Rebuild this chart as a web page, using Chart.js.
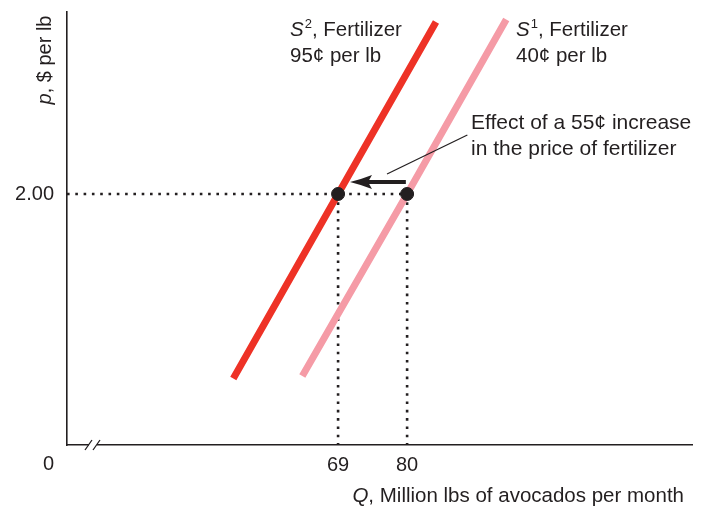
<!DOCTYPE html>
<html lang="en">
<head>
    <meta charset="UTF-8">
    <title>Avocado supply and the price of fertilizer</title>
    <script src="https://cdn.jsdelivr.net/npm/chart.js"></script>
    <style>
        html, body { margin: 0; padding: 0; background: #fff; }
    </style>
</head>
<body>
    <canvas id="ofertaChart" width="710" height="508"></canvas>

    <script>
        // tick labels
        const qTicks = [69, 80];
        const pTicks = [2.00];

        // supply curves (Q in million lbs, p in $ per lb)
        const s2Fertilizer95 = [{ x: 52.3, y: 0.53 }, { x: 69, y: 2.00 }, { x: 84.6, y: 3.37 }];
        const s1Fertilizer40 = [{ x: 63.3, y: 0.55 }, { x: 80, y: 2.00 }, { x: 95.8, y: 3.39 }];

        // equilibrium points at p = 2.00
        const equilibrium = [{ x: 69, y: 2.00 }, { x: 80, y: 2.00 }];

        // shift arrow and the leader line to the note
        const shiftArrow = [{ x: 79.8, y: 2.096 }, { x: 73.5, y: 2.096 }];
        const arrowTip = { x: 70.9, y: 2.096 };
        const leaderLine = [{ x: 76.8, y: 2.159 }, { x: 89.6, y: 2.47 }];

        const qMin = 25.8, qMax = 125.4;
        const pMin = 0, pMax = 3.45;

        const ink = '#231f20';
        const fonte = '"Liberation Sans", Arial, Helvetica, sans-serif';
        const tam = 20.5;

        // dotted guides built from the data above
        const guiaH = [{ x: qMin, y: pTicks[0] }, { x: qTicks[1], y: pTicks[0] }];
        const guia69 = [{ x: qTicks[0], y: pTicks[0] }, { x: qTicks[0], y: pMin }];
        const guia80 = [{ x: qTicks[1], y: pTicks[0] }, { x: qTicks[1], y: pMin }];

        // texto com sobrescrito: S², Fertilizer
        function rotuloS(ctx, x, y, sup, resto) {
            ctx.font = 'italic ' + tam + 'px ' + fonte;
            ctx.fillText('S', x, y);
            let w = ctx.measureText('S').width;
            ctx.font = '13px ' + fonte;
            ctx.fillText(sup, x + w + 1, y - 8);
            w += ctx.measureText(sup).width + 1;
            ctx.font = tam + 'px ' + fonte;
            ctx.fillText(resto, x + w, y);
        }

        const anotacoes = {
            id: 'anotacoes',
            afterDraw(chart) {
                const ctx = chart.ctx;
                const xs = chart.scales.x, ys = chart.scales.y;
                ctx.save();
                ctx.fillStyle = ink;
                ctx.strokeStyle = ink;
                ctx.textBaseline = 'alphabetic';
                ctx.textAlign = 'left';

                // arrow head
                const tx = xs.getPixelForValue(arrowTip.x);
                const ty = ys.getPixelForValue(arrowTip.y);
                ctx.beginPath();
                ctx.moveTo(tx, ty);
                ctx.quadraticCurveTo(tx + 12, ty - 3, tx + 22, ty - 7);
                ctx.lineTo(tx + 18, ty);
                ctx.lineTo(tx + 22, ty + 7);
                ctx.quadraticCurveTo(tx + 12, ty + 3, tx, ty);
                ctx.fill();

                // curve labels
                rotuloS(ctx, 290, 36, '2', ', Fertilizer');
                ctx.font = tam + 'px ' + fonte;
                ctx.fillText('95\u00a2 per lb', 290, 62);
                rotuloS(ctx, 516, 36, '1', ', Fertilizer');
                ctx.font = tam + 'px ' + fonte;
                ctx.fillText('40\u00a2 per lb', 516, 62);

                // note
                ctx.font = '21px ' + fonte;
                ctx.fillText('Effect of a 55\u00a2 increase', 471, 129);
                ctx.fillText('in the price of fertilizer', 471, 155);

                // origin label
                ctx.font = '20px ' + fonte;
                ctx.textAlign = 'center';
                ctx.textBaseline = 'middle';
                ctx.fillText('0', 48.5, 464);

                // x title
                ctx.textAlign = 'left';
                ctx.textBaseline = 'alphabetic';
                ctx.font = 'italic ' + tam + 'px ' + fonte;
                const wq = ctx.measureText('Q').width;
                ctx.font = tam + 'px ' + fonte;
                const resto = ', Million lbs of avocados per month';
                const wr = ctx.measureText(resto).width;
                const x0 = 684 - wq - wr;
                ctx.font = 'italic ' + tam + 'px ' + fonte;
                ctx.fillText('Q', x0, 502);
                ctx.font = tam + 'px ' + fonte;
                ctx.fillText(resto, x0 + wq, 502);

                // y title (rotated)
                ctx.save();
                ctx.translate(51, 60);
                ctx.rotate(-Math.PI / 2);
                ctx.font = 'italic 20px ' + fonte;
                const wp = ctx.measureText('p').width;
                ctx.font = '20px ' + fonte;
                const restoY = ', $ per lb';
                const wy = ctx.measureText(restoY).width;
                const y0 = -(wp + wy) / 2;
                ctx.font = 'italic 20px ' + fonte;
                ctx.fillText('p', y0, 0);
                ctx.font = '20px ' + fonte;
                ctx.fillText(restoY, y0 + wp, 0);
                ctx.restore();

                // axis break //
                const base = chart.chartArea.bottom;
                ctx.fillStyle = '#fff';
                ctx.fillRect(89, base - 3, 8, 6);
                ctx.lineWidth = 1.3;
                ctx.beginPath();
                ctx.moveTo(85, base + 5); ctx.lineTo(92, base - 5);
                ctx.moveTo(93, base + 5); ctx.lineTo(100, base - 5);
                ctx.stroke();
                ctx.restore();
            }
        };

        const pontilhado = {
            borderColor: ink,
            borderWidth: 2.6,
            borderDash: [2.6, 5.7],
            pointRadius: 0,
            showLine: true,
            order: 4
        };

        new Chart(document.getElementById('ofertaChart'), {
            type: 'scatter',
            data: {
                datasets: [
                    { label: 'equilibrio', data: equilibrium, backgroundColor: ink, borderColor: ink, pointRadius: 6.5, order: 0 },
                    { label: 'seta', data: shiftArrow, showLine: true, borderColor: ink, borderWidth: 4, pointRadius: 0, order: 1 },
                    { label: 'nota', data: leaderLine, showLine: true, borderColor: ink, borderWidth: 1.2, pointRadius: 0, order: 1 },
                    { label: 'S2', data: s2Fertilizer95, showLine: true, borderColor: '#ee3226', borderWidth: 7, pointRadius: 0, borderCapStyle: 'butt', order: 2 },
                    { label: 'S1', data: s1Fertilizer40, showLine: true, borderColor: '#f59ba6', borderWidth: 7, pointRadius: 0, borderCapStyle: 'butt', order: 3 },
                    Object.assign({ label: 'guiaH', data: guiaH }, pontilhado),
                    Object.assign({ label: 'guia69', data: guia69 }, pontilhado),
                    Object.assign({ label: 'guia80', data: guia80 }, pontilhado)
                ]
            },
            options: {
                responsive: false,
                devicePixelRatio: 1,
                animation: false,
                layout: { padding: { top: 12, right: 18, left: 0, bottom: 0 } },
                plugins: {
                    legend: { display: false },
                    tooltip: { enabled: false }
                },
                scales: {
                    x: {
                        type: 'linear',
                        min: qMin,
                        max: qMax,
                        afterBuildTicks: (s) => { s.ticks = qTicks.map(v => ({ value: v })); },
                        afterFit: (s) => { s.height = 63; s.paddingLeft = 0; s.paddingRight = 0; },
                        grid: { display: false },
                        border: { display: true, color: ink, width: 1.6 },
                        ticks: {
                            color: ink,
                            padding: 0,
                            maxRotation: 0,
                            font: { family: fonte, size: 20 },
                            callback: (v) => String(v)
                        }
                    },
                    y: {
                        type: 'linear',
                        min: pMin,
                        max: pMax,
                        afterBuildTicks: (s) => { s.ticks = pTicks.map(v => ({ value: v })); },
                        afterFit: (s) => { s.width = 67; s.paddingTop = 0; s.paddingBottom = 0; },
                        grid: { display: false },
                        border: { display: true, color: ink, width: 1.6 },
                        ticks: {
                            color: ink,
                            padding: 5,
                            font: { family: fonte, size: 20 },
                            callback: (v) => v.toFixed(2)
                        }
                    }
                }
            },
            plugins: [anotacoes]
        });
    </script>
</body>
</html>
